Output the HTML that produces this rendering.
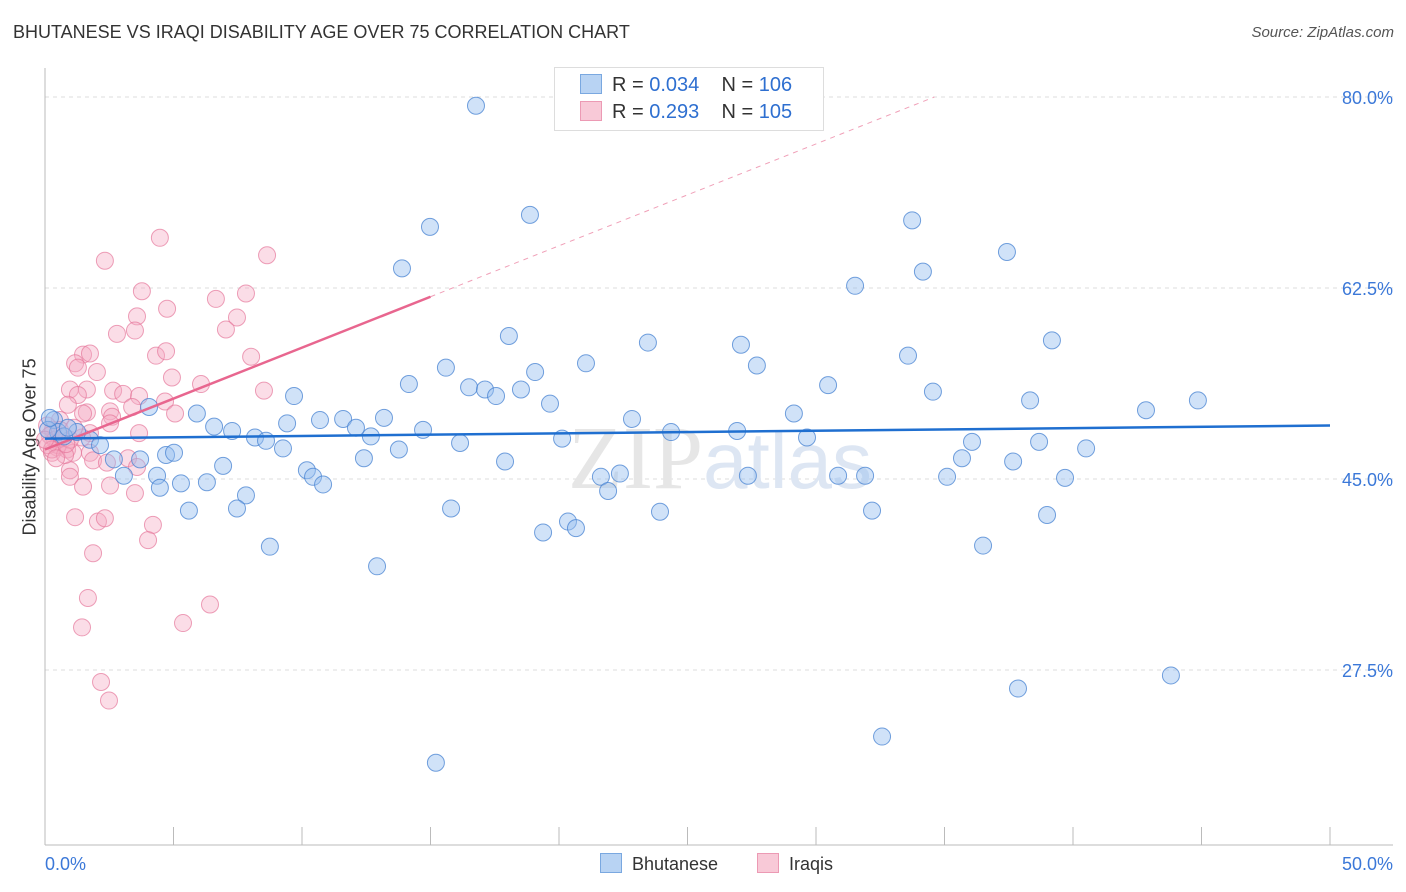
<!DOCTYPE html>
<html><head><meta charset="utf-8"><style>
body{margin:0;background:#fff;font-family:"Liberation Sans",sans-serif}
#wrap{position:relative;width:1406px;height:892px;overflow:hidden}
.t{position:absolute;white-space:nowrap}
</style></head><body>
<div id="wrap">
<div class="t" style="left:13px;top:22px;font-size:18px;color:#333">BHUTANESE VS IRAQI DISABILITY AGE OVER 75 CORRELATION CHART</div>
<div class="t" style="right:12px;top:24px;font-size:15px;color:#555;font-style:italic">Source: ZipAtlas.com</div>
<div class="t" style="left:-50px;top:445px;font-size:18px;color:#333;transform:rotate(-90deg);width:160px;text-align:center">Disability Age Over 75</div>
<svg id="svg" width="1406" height="892" style="position:absolute;left:0;top:0"></svg>
<div class="t" style="left:554px;top:67px;width:268px;height:62px;border:1px solid #ddd;background:#fff"></div>
<div class="t" style="left:580px;top:74px;font-size:20px;color:#333"><span style="display:inline-block;width:20px;height:18px;background:#b8d3f3;border:1px solid #7aa8e0;vertical-align:-3px;margin-right:10px"></span>R = <span style="color:#2e6fd0">0.034</span>&nbsp;&nbsp;&nbsp; N = <span style="color:#2e6fd0">106</span></div>
<div class="t" style="left:580px;top:101px;font-size:20px;color:#333"><span style="display:inline-block;width:20px;height:18px;background:#f8c9d7;border:1px solid #ec9ab4;vertical-align:-3px;margin-right:10px"></span>R = <span style="color:#2e6fd0">0.293</span>&nbsp;&nbsp;&nbsp; N = <span style="color:#2e6fd0">105</span></div>
<div class="t" style="left:600px;top:853px;font-size:18px;color:#333"><span style="display:inline-block;width:20px;height:18px;background:#b8d3f3;border:1px solid #7aa8e0;vertical-align:-3px;margin-right:10px"></span>Bhutanese</div>
<div class="t" style="left:757px;top:853px;font-size:18px;color:#333"><span style="display:inline-block;width:20px;height:18px;background:#f8c9d7;border:1px solid #ec9ab4;vertical-align:-3px;margin-right:10px"></span>Iraqis</div>
</div>
<script>
const yTicks=[80,62.5,45,27.5];
const yTickLabels=["80.0%","62.5%","45.0%","27.5%"];
const xEndLabels=["0.0%","50.0%"];
const blueX=[16.77,14.98,18.87,13.89,33.74,37.43,34.16,31.52,18.05,23.46,27.08,39.18,21.05,33.58,27.70,15.60,19.07,14.16,30.47,16.50,17.12,18.52,34.55,17.55,9.69,4.05,19.65,5.91,42.84,44.86,38.33,29.14,13.19,10.70,11.60,9.42,6.58,7.28,14.71,12.10,12.68,22.84,24.36,26.93,29.65,8.17,8.60,9.26,13.77,16.15,20.12,36.07,38.68,40.51,0.35,0.51,1.75,2.14,4.71,5.02,3.70,2.68,6.93,10.19,12.41,17.90,35.68,37.67,22.37,21.63,27.35,30.86,31.91,35.10,39.69,4.36,5.29,6.30,10.43,10.82,3.07,7.82,7.47,5.60,4.47,21.91,15.80,23.93,32.18,38.99,20.35,20.66,19.38,8.75,12.92,36.50,37.86,43.81,32.57,15.21,1.25,0.74,0.12,0.89,0.19];
const blueY=[79.2,68.1,69.2,64.3,68.7,65.8,64.0,62.7,58.1,57.5,57.3,57.7,55.6,56.3,55.4,55.2,54.8,53.7,53.6,53.4,53.2,53.2,53.0,52.6,52.6,51.6,51.9,51.0,51.3,52.2,52.2,51.0,50.6,50.4,50.5,50.1,49.8,49.4,49.5,49.7,48.9,50.5,49.3,49.4,48.8,48.8,48.5,47.8,47.7,48.3,48.7,48.4,48.4,47.8,50.4,49.3,48.6,48.1,47.2,47.4,46.8,46.8,46.2,45.8,46.9,46.6,46.9,46.6,45.5,45.2,45.3,45.3,45.3,45.2,45.1,45.3,44.6,44.7,45.2,44.5,45.3,43.5,42.3,42.1,44.2,43.9,42.3,42.0,42.1,41.7,41.1,40.5,40.1,38.8,37.0,38.9,25.8,27.0,21.4,19.0,49.3,48.9,49.5,49.7,50.6];
const pinkX=[4.47,2.33,8.64,3.77,4.75,3.58,6.65,7.82,7.47,7.04,2.80,3.50,1.48,1.75,4.32,4.71,8.02,1.17,1.28,2.02,4.94,6.07,8.52,0.97,1.63,2.65,3.04,3.66,1.28,0.89,1.63,1.48,2.53,2.61,3.39,4.67,5.06,3.66,2.53,1.75,1.44,0.58,0.31,0.47,0.27,0.86,1.09,1.75,1.87,2.41,3.23,3.58,0.97,0.97,1.48,2.53,3.50,1.17,2.06,2.33,4.20,4.01,1.87,1.67,1.44,6.42,5.37,2.18,2.49,0.08,0.19,0.39,0.51,0.66,0.12,0.27,0.78,0.58,0.97,0.0,0.43,0.82,1.13];
const pinkY=[67.1,65.0,65.5,62.2,60.6,59.9,61.5,62.0,59.8,58.7,58.3,58.6,56.4,56.5,56.3,56.7,56.2,55.6,55.2,54.8,54.3,53.7,53.1,53.2,53.2,53.1,52.8,52.6,52.7,51.8,51.1,51.0,51.2,50.7,51.6,52.1,51.0,49.2,50.1,49.2,48.8,50.4,49.5,47.9,47.4,47.7,47.4,47.4,46.7,46.5,46.9,46.1,45.8,45.2,44.3,44.4,43.7,41.5,41.1,41.4,40.8,39.4,38.2,34.1,31.4,33.5,31.8,26.4,24.7,49.9,49.0,48.6,48.1,48.8,48.1,47.7,47.2,49.5,48.6,48.6,46.9,48.2,49.7];
const blueTrend=[48.7,49.9];
const pinkTrend=[47.7,61.7];
const pinkTrendEndX=15;

const X=v=>45+v*25.7, Y=v=>97+(80-v)*10.914;
const svg=document.getElementById('svg'), NS='http://www.w3.org/2000/svg';
function mk(tag,attrs){const e=document.createElementNS(NS,tag);for(const k in attrs)e.setAttribute(k,attrs[k]);svg.appendChild(e);return e;}
yTicks.forEach((t,i)=>{
  const g=mk('line',{x1:45,x2:1393,y1:Y(t),y2:Y(t),stroke:'#ddd','stroke-dasharray':'4,4'});
  
  
  const tx=mk('text',{x:1393,y:Y(t)+7,'text-anchor':'end','font-size':18,fill:'#3b78d8','font-family':'Liberation Sans, sans-serif'});
  tx.textContent=yTickLabels[i];
  
  
});
let a=mk('line',{x1:45,x2:1393,y1:845,y2:845,stroke:'#bbb'});


a=mk('line',{x1:45,x2:45,y1:68,y2:845,stroke:'#bbb'});


for(let v=0;v<=50;v+=5){
  const tk=mk('line',{x1:X(v),x2:X(v),y1:827,y2:845,stroke:'#bbb'});
  
  
}
[[0,'start'],[50,'end']].forEach((p,i)=>{
  const tx=mk('text',{x:X(p[0])+(i?63:0),y:870,'text-anchor':p[1],'font-size':18,fill:'#3b78d8','font-family':'Liberation Sans, sans-serif'});
  tx.textContent=xEndLabels[i];
  
  
});
const wm=mk('text',{x:720,y:488,'text-anchor':'middle','font-size':90,fill:'#e6e6e6','font-family':'Liberation Serif, serif'});
wm.innerHTML='ZIP<tspan font-family="Liberation Sans, sans-serif" font-size="80" fill="#dde6f3">atlas</tspan>';


pinkX.forEach((x,i)=>{
  const c=mk('circle',{cx:X(x),cy:Y(pinkY[i]),r:8.5,fill:'rgba(245,170,195,0.4)',stroke:'rgba(230,120,155,0.7)','stroke-width':1});
  
  
});
blueX.forEach((x,i)=>{
  const c=mk('circle',{cx:X(x),cy:Y(blueY[i]),r:8.5,fill:'rgba(150,190,240,0.45)',stroke:'rgba(70,130,210,0.75)','stroke-width':1});
  
  
});
const slope=(pinkTrend[1]-pinkTrend[0])/pinkTrendEndX;
const xEnd=(80-pinkTrend[0])/slope;
let l=mk('line',{x1:X(pinkTrendEndX),y1:Y(pinkTrend[1]),x2:X(xEnd),y2:Y(80),stroke:'#f0a0b8','stroke-dasharray':'5,5','stroke-width':1});


l=mk('line',{x1:X(0),y1:Y(pinkTrend[0]),x2:X(pinkTrendEndX),y2:Y(pinkTrend[1]),stroke:'#e8668f','stroke-width':2.5});


l=mk('line',{x1:X(0),y1:Y(blueTrend[0]),x2:X(50),y2:Y(blueTrend[1]),stroke:'#1f6fd0','stroke-width':2.5});


</script>
</body></html>
